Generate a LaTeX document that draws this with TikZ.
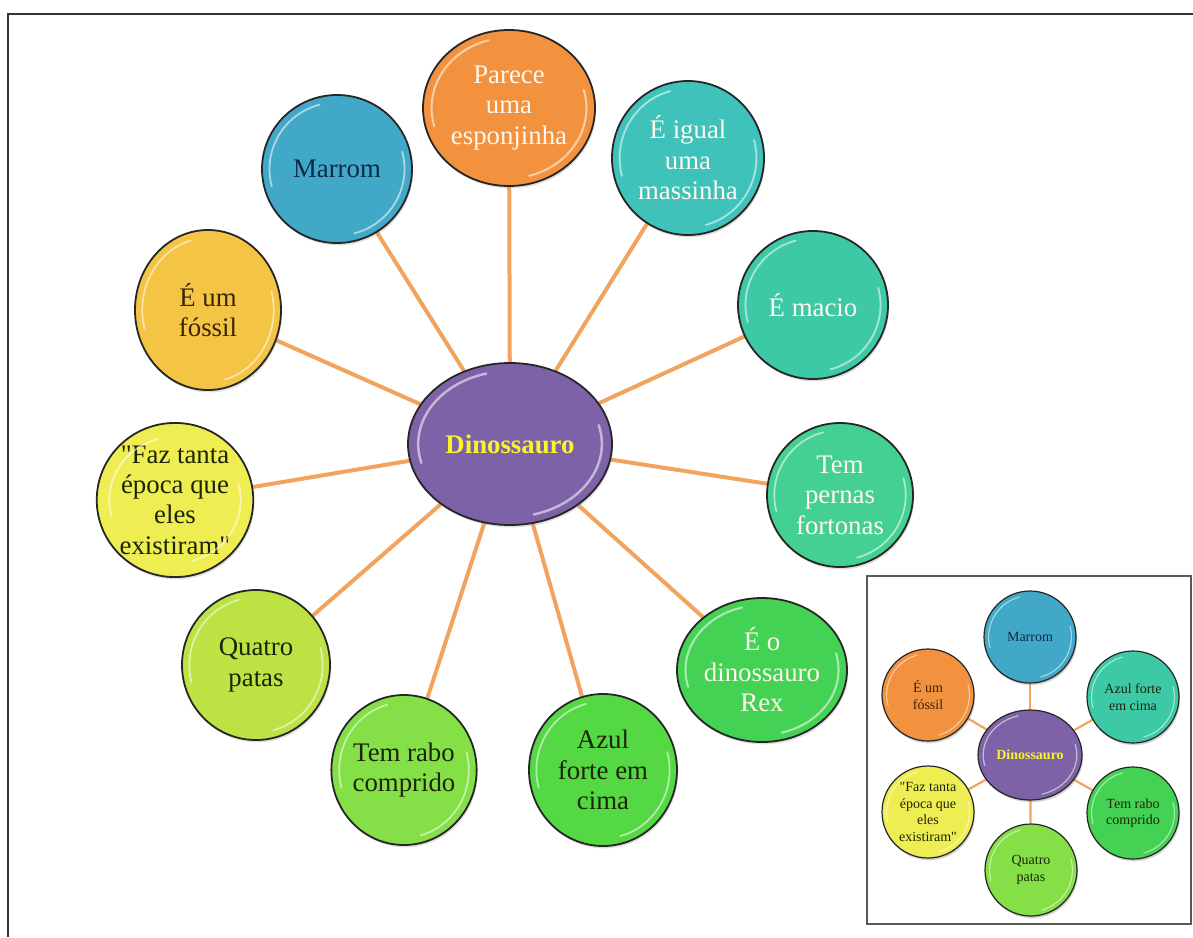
\documentclass[tikz,border=0pt]{standalone}
\usepackage{fontspec}
\setmainfont{Liberation Serif}[Ligatures=TeXOff]
\usetikzlibrary{shapes.geometric,backgrounds,shadows}
\definecolor{lineor}{HTML}{F2A45E}
\definecolor{cpurple}{HTML}{7E62A8}
\definecolor{corange}{HTML}{F2913E}
\definecolor{cteal}{HTML}{3EC2BA}
\definecolor{cblue}{HTML}{42A8C8}
\definecolor{cgold}{HTML}{F4C444}
\definecolor{ctealgreen}{HTML}{3EC9A6}
\definecolor{cyellow}{HTML}{EEEE52}
\definecolor{cmint}{HTML}{44D092}
\definecolor{clime}{HTML}{BCE244}
\definecolor{cgreen}{HTML}{44D254}
\definecolor{clgreen}{HTML}{84E046}
\definecolor{cvgreen}{HTML}{54D844}
\definecolor{txwhite}{HTML}{FFF8EE}
\definecolor{txnavy}{HTML}{0C2A48}
\definecolor{txbrown}{HTML}{3A2406}
\definecolor{txdark}{HTML}{1C2406}
\definecolor{txyellow}{HTML}{F8F428}
\tikzset{
  bub/.style={ellipse, draw=black!85, line width=0.9pt, inner sep=0pt, align=center,
    font=\fontsize{13.4}{15.2}\selectfont,
    drop shadow={opacity=0.25, shadow xshift=0.6pt, shadow yshift=-1.2pt}},
  smallbub/.style={bub, line width=0.6pt, font=\fontsize{7}{8.2}\selectfont,
    drop shadow={opacity=0.2, shadow xshift=0.4pt, shadow yshift=-0.8pt}},
  con/.style={draw=lineor, line width=2pt},
  smallcon/.style={draw=lineor, line width=1.1pt},
  gloss/.style={white, opacity=0.55, line cap=round},
}
% #1 style, #2 name, #3 x, #4 y, #5 rx, #6 ry, #7 fill, #8 text colour, #9 text
\newcommand{\bubble}[9]{%
  \node[#1, fill=#7, text=#8, minimum width=#5pt, minimum height=#6pt] (#2) at (#3,#4) {#9};
  \draw[gloss, line width={0.012*#5 pt}] (#2.center) ++(-105:{0.9*#5} and {0.9*#6})
     arc[start angle=-105, end angle=-195, x radius={0.9*#5}, y radius={0.9*#6}];
  \draw[gloss, line width={0.012*#5 pt}] (#2.center) ++(75:{0.9*#5} and {0.9*#6})
     arc[start angle=75, end angle=-15, x radius={0.9*#5}, y radius={0.9*#6}];
}
\begin{document}
\begin{tikzpicture}[x=0.5pt, y=-0.5pt]
\useasboundingbox (0,0) rectangle (1193,937);
% outer frame
\draw[line width=1pt, black!80] (8,937) -- (8,14) -- (1193,14);

% main diagram
\bubble{bub}{c}{510}{444}{102}{81}{cpurple}{txyellow}{\bfseries Dinossauro}
\bubble{bub}{n1}{509}{108}{86}{78}{corange}{txwhite}{Parece\\uma\\esponjinha}
\bubble{bub}{n2}{688}{158}{76}{77}{cteal}{txwhite}{É igual\\uma\\massinha}
\bubble{bub}{n3}{813}{305}{75}{74}{ctealgreen}{txwhite}{É macio}
\bubble{bub}{n4}{840}{495}{73}{72}{cmint}{txwhite}{Tem\\pernas\\fortonas}
\bubble{bub}{n5}{762}{670}{85}{72}{cgreen}{txwhite}{É o\\dinossauro\\Rex}
\bubble{bub}{n6}{603}{770}{74}{76}{cvgreen}{txdark}{Azul\\forte em\\cima}
\bubble{bub}{n7}{404}{770}{72}{75}{clgreen}{txdark}{Tem rabo\\comprido}
\bubble{bub}{n8}{256}{665}{74}{75}{clime}{txdark}{Quatro\\patas}
\bubble{bub}{n9}{175}{500}{73}{70}{cyellow}{txdark}{"Faz tanta\\época que\\eles\\existiram"}
\bubble{bub}{n10}{208}{310}{73}{80}{cgold}{txbrown}{É um\\fóssil}
\bubble{bub}{n11}{337}{169}{75}{74}{cblue}{txnavy}{Marrom}

\begin{scope}[on background layer]
  \foreach \n in {n1,n2,n3,n4,n5,n6,n7,n8,n9,n10,n11}
    \draw[con] (c) -- (\n);
\end{scope}

% inset
\begin{scope}[on background layer]
  \draw[line width=0.8pt, black!65, fill=white] (867,576) rectangle (1191,924);
\end{scope}
\bubble{smallbub}{ic}{1030}{755}{52}{45}{cpurple}{txyellow}{\bfseries Dinossauro}
\bubble{smallbub}{im}{1030}{637}{46}{46}{cblue}{txnavy}{Marrom}
\bubble{smallbub}{if}{928}{695}{46}{46}{corange}{txbrown}{É um\\fóssil}
\bubble{smallbub}{ia}{1133}{697}{46}{46}{ctealgreen}{txdark}{Azul forte\\em cima}
\bubble{smallbub}{iq}{928}{812}{46}{46}{cyellow}{txdark}{"Faz tanta\\época que\\eles\\existiram"}
\bubble{smallbub}{it}{1133}{813}{46}{46}{cgreen}{txdark}{Tem rabo\\comprido}
\bubble{smallbub}{ip}{1031}{870}{46}{46}{clgreen}{txdark}{Quatro\\patas}
\begin{scope}[on background layer]
  \foreach \n in {im,if,ia,iq,it,ip}
    \draw[smallcon] (ic) -- (\n);
\end{scope}
\end{tikzpicture}
\end{document}
